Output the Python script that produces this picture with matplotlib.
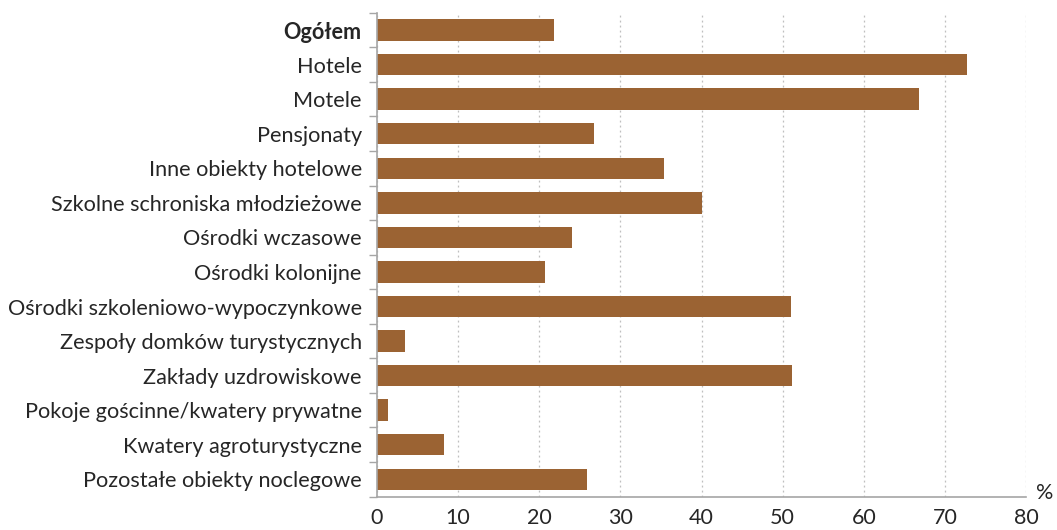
import numpy as np
from matplotlib import pyplot as plt
from matplotlib.ticker import FixedLocator

categories = ["Ogółem", "Hotele", "Motele", "Pensjonaty", "Inne obiekty hotelowe",
              "Szkolne schroniska młodzieżowe", "Ośrodki wczasowe", "Ośrodki kolonijne",
              "Ośrodki szkoleniowo-wypoczynkowe", "Zespoły domków turystycznych",
              "Zakłady uzdrowiskowe", "Pokoje gościnne/kwatery prywatne",
              "Kwatery agroturystyczne", "Pozostałe obiekty noclegowe"]
values = [21.8, 72.7, 66.8, 26.7, 35.4, 40.1, 24.0, 20.7, 51.0, 3.5, 51.2, 1.4, 8.2, 25.9]
xticks = [0, 10, 20, 30, 40, 50, 60, 70, 80]

plt.rcParams["font.family"] = ["Lato", "DejaVu Sans"]

fig = plt.figure(figsize=(10.57, 5.30), dpi=100)
ax = fig.add_axes([0.3567, 0.063, 0.6140, 0.913])

y = np.arange(len(categories))
ax.barh(y, values, height=0.62, color="#9b6333", zorder=2)

ax.set_ylim(len(categories) - 0.5, -0.5)
ax.set_xlim(0, 80)
ax.set_yticks(y)
ax.set_yticklabels(categories, fontsize=15.6, color="#262626")
ax.get_yticklabels()[0].set_fontweight("bold")
ax.tick_params(axis="y", length=0, pad=11)
ax.yaxis.set_minor_locator(FixedLocator(np.arange(-0.5, len(categories), 1)))
ax.tick_params(axis="y", which="minor", length=6, color="#a6a6a6", width=1)

ax.set_xticks(xticks)
ax.set_xticklabels([str(t) for t in xticks], fontsize=15.5, color="#262626")
ax.tick_params(axis="x", length=0, pad=8)
ax.xaxis.set_minor_locator(FixedLocator([0]))
ax.tick_params(axis="x", which="minor", length=9, color="#a6a6a6", width=1)

ax.grid(axis="x", linestyle=(0, (1.5, 2.5)), color="#bfbfbf", linewidth=0.9, zorder=0)
ax.spines["top"].set_visible(False)
ax.spines["right"].set_visible(False)
ax.spines["left"].set_color("#a6a6a6")
ax.spines["bottom"].set_color("#a6a6a6")
ax.spines["left"].set_linewidth(1.2)
ax.spines["bottom"].set_linewidth(1.2)

ax.text(1.016, 0.008, "%", transform=ax.transAxes, fontsize=15.5, color="#262626",
        ha="left", va="center")

fig.savefig("out.png", dpi=100)
